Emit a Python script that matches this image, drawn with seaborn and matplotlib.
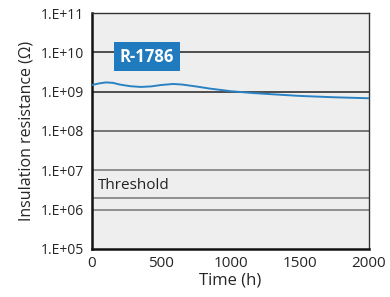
import matplotlib
matplotlib.use("Agg")
import matplotlib.pyplot as plt
import seaborn as sns
import pandas as pd
import numpy as np

time_h = [0, 50, 100, 150, 200, 275, 350, 425, 500, 585, 650, 750, 850, 1000, 1150, 1300, 1500, 1750, 2000]
resistance = [1.48e9, 1.62e9, 1.72e9, 1.68e9, 1.52e9, 1.38e9, 1.32e9, 1.36e9, 1.48e9, 1.57e9, 1.52e9, 1.36e9, 1.2e9, 1.03e9, 0.93e9, 0.86e9, 0.78e9, 0.72e9, 0.68e9]
y_ticks = [1e5, 1e6, 1e7, 1e8, 1e9, 1e10, 1e11]
y_tick_labels = ["1.E+05", "1.E+06", "1.E+07", "1.E+08", "1.E+09", "1.E+10", "1.E+11"]
x_ticks = [0, 500, 1000, 1500, 2000]
threshold = 2e6
series_name = "R-1786"

df = pd.DataFrame({"Time": time_h, "R": resistance})

sns.set_theme(style="white")
plt.rcParams["font.family"] = ["Open Sans", "DejaVu Sans"]

fig = plt.figure(figsize=(3.9, 2.97), dpi=100)
ax = fig.add_axes([0.236, 0.162, 0.710, 0.794])
ax.set_facecolor("#eeeeee")

grid_colors = {1e6: "#777777", 1e7: "#777777", 1e8: "#555555", 1e9: "#222222", 1e10: "#222222"}
for v, c in grid_colors.items():
    ax.axhline(v, color=c, lw=1.1, zorder=1)
ax.axhline(threshold, color="#777777", lw=1.1, zorder=1)

sns.lineplot(data=df, x="Time", y="R", ax=ax, color="#2a82c4", lw=1.4, zorder=3)

ax.set_yscale("log")
ax.set_ylim(1e5, 1e11)
ax.set_xlim(0, 2000)
ax.set_yticks(y_ticks)
ax.set_yticklabels(y_tick_labels)
ax.minorticks_off()
ax.set_xticks(x_ticks)
ax.tick_params(axis="x", direction="in", length=3, width=0.8, color="#555555", labelsize=11, pad=5)
ax.tick_params(axis="y", length=0, labelsize=10, pad=6)
ax.set_xlabel("Time (h)", fontsize=12, labelpad=1)
ax.set_ylabel("Insulation resistance (Ω)", fontsize=11.5, labelpad=4)

for s in ["left", "bottom"]:
    ax.spines[s].set_color("#111111")
    ax.spines[s].set_linewidth(1.8)
for s in ["top", "right"]:
    ax.spines[s].set_color("#333333")
    ax.spines[s].set_linewidth(1.0)

ax.text(397, 7.7e9, series_name, ha="center", va="center", fontsize=12, fontweight="bold",
        color="white", zorder=5,
        bbox=dict(boxstyle="square,pad=0.33", fc="#1f7bbd", ec="none"))
ax.text(40, 4.2e6, "Threshold", ha="left", va="center", fontsize=11, color="#222222", zorder=5)

fig.savefig("out.png", dpi=100)
